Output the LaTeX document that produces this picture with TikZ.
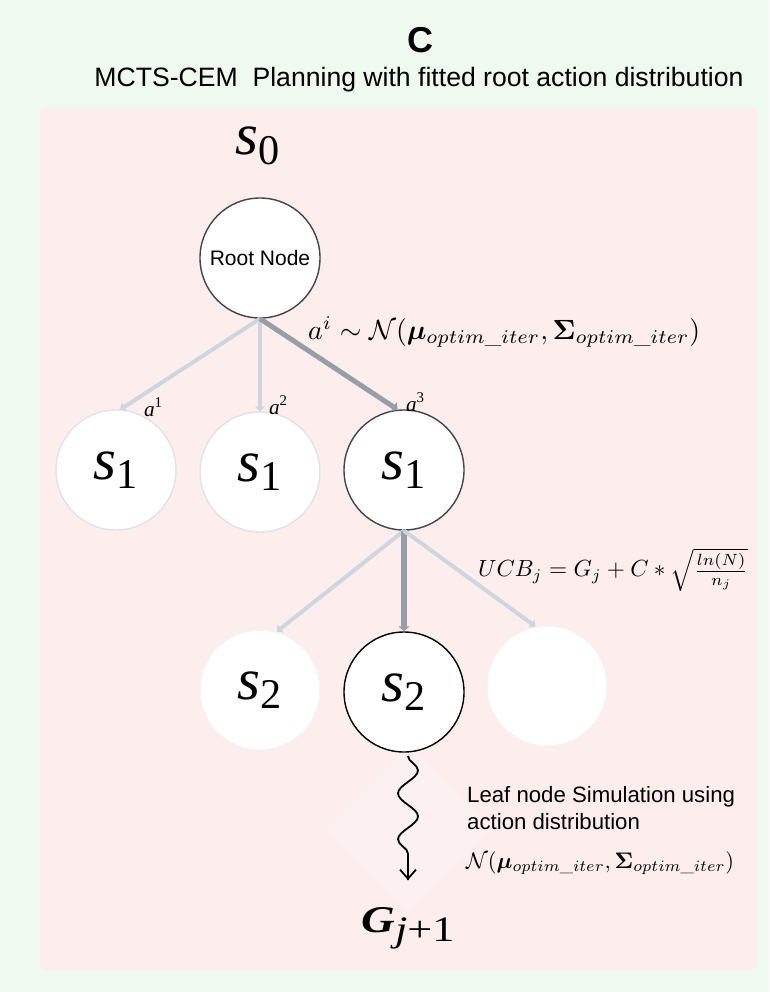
\documentclass[tikz,border=0pt]{standalone}
\usepackage{graphicx}
\usepackage{amsmath,bm}
\usepackage{fontspec}
\newfontfamily\arialf{Liberation Sans}
\newfontfamily\tms{Liberation Serif}
\usetikzlibrary{arrows.meta,decorations.pathmorphing}
\definecolor{bggreen}{HTML}{EFF9F0}
\definecolor{bgpink}{HTML}{FDEDED}
\definecolor{lightedge}{HTML}{CFD5DE}
\definecolor{darkedge}{HTML}{989EA8}
\definecolor{darkring}{HTML}{40444C}
\definecolor{faintring}{HTML}{DFE2E8}
\definecolor{ghostring}{HTML}{F4F4F6}
\tikzset{
  statenode/.style={circle, minimum size=120pt, inner sep=0pt, fill=white, line width=1.4pt},
  boldring/.style={statenode, draw=darkring},
  faintring/.style={statenode, draw=faintring},
  ghostnode/.style={statenode, draw=ghostring},
  lightarrow/.style={draw=lightedge, line width=4pt, -{Triangle[length=5pt,width=10pt]}},
  darkarrow/.style={draw=darkedge, line width=5.5pt, -{Triangle[length=5pt,width=11pt]}},
  snakearrow/.style={draw=black, line width=1.8pt, decorate, decoration={snake, amplitude=10pt, segment length=46pt, post length=18pt}},
  mathlbl/.style={inner sep=0pt},
}
\newcommand{\fsz}[1]{\fontsize{#1}{#1}\selectfont}
\newcommand{\slbl}[1]{\resizebox{44pt}{!}{\fsz{10}\tms\itshape s\upshape\raisebox{-0.16em}{\fsz{7.2}#1}}}
\newcommand{\albl}[1]{\resizebox{18pt}{!}{\fsz{10}\tms\itshape a\upshape\raisebox{0.45em}{\fsz{7}#1}}}
\begin{document}
\begin{tikzpicture}[x=1pt,y=-1pt]
\useasboundingbox (0,0) rectangle (769,992);
\fill[bggreen] (0,0) rectangle (769,992);
\fill[bgpink, rounded corners=6pt] (40,108) rectangle (757,970);
\node (title) at (420,40) {\arialf\bfseries\fsz{36}C};
\node (subtitle) at (419,80) {\arialf\fsz{26.6}MCTS-CEM\ \ Planning with fitted root action distribution};
\node (s0lbl) at (258,146) {\slbl{0}};
% faint diamond behind the rollout
\fill[white, opacity=0.2] (410,745) -- (492,830) -- (410,912) -- (326,830) -- cycle;
% nodes
\node[boldring] (root) at (260,258) {\arialf\fsz{21}Root Node};
\node[faintring] (a) at (116,470) {\slbl{1}};
\node[faintring] (b) at (260,472) {\slbl{1}};
\node[boldring] (c) at (404,470) {\slbl{1}};
\node[ghostnode] (d) at (260,690) {\slbl{2}};
\node[statenode, draw=black] (e) at (404,692) {\slbl{2}};
\node[ghostnode] (f) at (547,686) {};
% edges
\draw[lightarrow] (root.south) -- (a.86);
\draw[lightarrow] (root.south) -- (b.north);
\draw[darkarrow, line width=5pt] (root.south) -- (c.96);
\draw[lightarrow] (c.south) -- (d.74);
\draw[darkarrow] (c.south) -- (e.north);
\draw[lightarrow] (c.south) -- (f.101);
% labels
\node[mathlbl] (l1) at (153,407) {\albl{1}};
\node[mathlbl] (l2) at (278,405) {\albl{2}};
\node[mathlbl] (l3) at (415,402) {\albl{3}};
\node[mathlbl, anchor=west] (dist) at (308,332) {\resizebox{392pt}{!}{$a^i\sim\mathcal{N}(\bm{\mu}_{optim\_iter},\bm{\Sigma}_{optim\_iter})$}};
\node[mathlbl, anchor=west] (ucb) at (478,570) {\resizebox{270pt}{!}{$UCB_j=G_j+C*\sqrt{\frac{ln(N)}{n_j}}$}};
% rollout
\coordinate (rtop) at (408,756);
\coordinate (rend) at (408,880);
\node[mathlbl, anchor=base] (g) at (408,932) {\resizebox{93pt}{25pt}{\fsz{10}\tms\bfseries\itshape G\mdseries\raisebox{-0.24em}{\fsz{9.5}\itshape j\upshape+1}}};
\draw[snakearrow] (rtop) -- (rend);
\draw[black, line width=1.8pt, -{Straight Barb[length=9pt,width=16pt]}] (408,860) -- (rend);
\node[anchor=west, align=left, inner sep=0pt, font=\arialf\fsz{22.2}] (leaf) at (467,808) {Leaf node Simulation using\\[4pt]action distribution};
\node[mathlbl, anchor=west] (leafd) at (466,863) {\resizebox{268pt}{!}{$\mathcal{N}(\bm{\mu}_{optim\_iter},\bm{\Sigma}_{optim\_iter})$}};
\end{tikzpicture}
\end{document}
